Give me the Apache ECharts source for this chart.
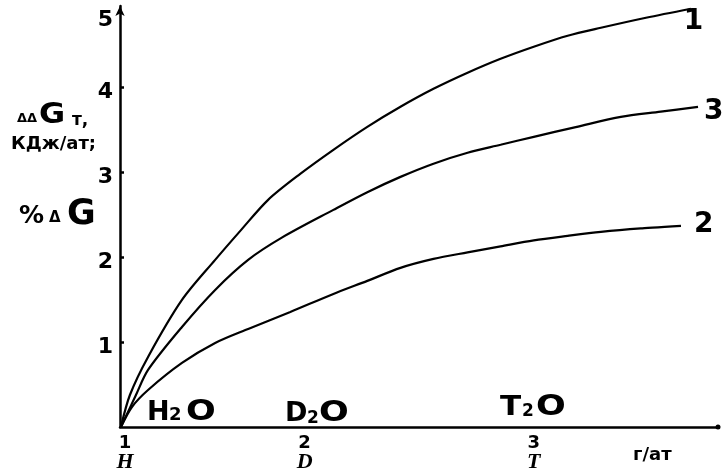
<!DOCTYPE html>
<html>
<head>
<meta charset="utf-8">
<script src="https://cdn.jsdelivr.net/npm/echarts@6.0.0/dist/echarts.min.js"></script>
<style>
  html, body { margin: 0; padding: 0; background: #fff; }
  #chart { width: 725px; height: 473px; }
</style>
</head>
<body>
<div id="chart"></div>
<script>
  // x is in drawing units of the original axis (1 = H, 2 = D, 3 = T are not evenly spaced)
  var xTickPos = [1, 1.98, 3.23];
  var xTickNum = ['1', '2', '3'];
  var xTickSym = ['H', 'D', 'T'];
  var yTickPos = [1, 2, 3, 4];
  var yLabelPos = [1, 2, 3, 4, 4.84];

  var curve1 = [[0.978, 0], [1.027, 0.376], [1.126, 0.824], [1.311, 1.494], [1.492, 1.965],
    [1.634, 2.318], [1.781, 2.671], [1.956, 2.976], [2.137, 3.259], [2.322, 3.529],
    [2.503, 3.765], [2.683, 3.976], [2.869, 4.165], [3.049, 4.329], [3.230, 4.471],
    [3.415, 4.600], [3.596, 4.694], [3.842, 4.812], [4.087, 4.918]];
  var curve2 = [[0.978, 0], [1.038, 0.235], [1.126, 0.435], [1.311, 0.753], [1.492, 0.988],
    [1.672, 1.153], [1.902, 1.353], [2.137, 1.565], [2.322, 1.718], [2.503, 1.871],
    [2.683, 1.976], [2.869, 2.053], [3.049, 2.124], [3.230, 2.194], [3.415, 2.247],
    [3.596, 2.294], [3.814, 2.335], [4.033, 2.365]];
  var curve3 = [[0.978, 0], [1.060, 0.376], [1.126, 0.671], [1.311, 1.176], [1.492, 1.612],
    [1.672, 1.965], [1.858, 2.229], [2.137, 2.553], [2.322, 2.761], [2.503, 2.941],
    [2.683, 3.096], [2.869, 3.224], [3.049, 3.318], [3.230, 3.412], [3.459, 3.526],
    [3.705, 3.647], [3.923, 3.708], [4.126, 3.765]];

  var font = 'DejaVu Sans';

  function curveSeries(name, data, offset) {
    return {
      name: name,
      type: 'line',
      data: data,
      smooth: 0.3,
      showSymbol: false,
      lineStyle: { color: '#000', width: 2.2 },
      endLabel: {
        show: true,
        formatter: name,
        distance: 0,
        offset: offset,
        color: '#000',
        fontFamily: font,
        fontWeight: 'bold',
        fontSize: 28
      },
      z: 3
    };
  }

  function txt(x, y, text, size, sx) {
    return {
      type: 'text',
      x: x,
      y: y,
      scaleX: sx || 1,
      z: 10,
      style: {
        text: text,
        x: 0,
        y: 0,
        fill: '#000',
        font: 'bold ' + size + 'px "' + font + '"',
        textAlign: 'left',
        textVerticalAlign: 'middle'
      }
    };
  }

  var chart = echarts.init(document.getElementById('chart'));
  chart.setOption({
    backgroundColor: '#fff',
    animation: false,
    grid: { left: 120, right: 7, top: 6, bottom: 46 },
    xAxis: {
      type: 'value',
      min: 0.973,
      max: 4.235,
      axisLine: {
        lineStyle: { color: '#000', width: 2.5 },
        symbol: ['none', 'circle'],
        symbolSize: [5, 5]
      },
      axisTick: { show: false },
      splitLine: { show: false },
      axisLabel: {
        customValues: xTickPos,
        margin: 7,
        formatter: function (v) {
          var best = 0;
          for (var i = 1; i < xTickPos.length; i++) {
            if (Math.abs(xTickPos[i] - v) < Math.abs(xTickPos[best] - v)) best = i;
          }
          return '{n|' + xTickNum[best] + '}\n{s|' + xTickSym[best] + '}';
        },
        rich: {
          n: { fontFamily: font, fontWeight: 'bold', fontSize: 18, lineHeight: 18, color: '#000' },
          s: { fontFamily: 'Liberation Serif', fontStyle: 'italic', fontWeight: 'bold', fontSize: 22, lineHeight: 20, color: '#000' }
        }
      }
    },
    yAxis: {
      type: 'value',
      min: 0,
      max: 4.95,
      axisLine: {
        lineStyle: { color: '#000', width: 2.5 },
        symbol: ['none', 'arrow'],
        symbolSize: [7, 10]
      },
      axisTick: {
        show: true,
        inside: true,
        length: 4,
        customValues: yTickPos,
        lineStyle: { color: '#000', width: 2.5 }
      },
      splitLine: { show: false },
      axisLabel: {
        customValues: yLabelPos,
        margin: 7,
        verticalAlign: 'top',
        lineHeight: 10,
        formatter: function (v) { return String(Math.round(v)); },
        color: '#000',
        fontFamily: font,
        fontWeight: 'bold',
        fontSize: 22
      }
    },
    series: [
      curveSeries('1', curve1, [-7, 13]),
      curveSeries('3', curve3, [6, 5]),
      curveSeries('2', curve2, [13, -1])
    ],
    graphic: [
      // y-axis title
      txt(17, 119, 'ΔΔ', 13),
      txt(39, 115, 'G', 29, 1.1),
      txt(72, 121, 'т,', 17),
      txt(11, 144, 'КДж/ат;', 18),
      txt(19, 216, '%', 25),
      txt(49, 218, 'Δ', 15),
      txt(67, 215, 'G', 35),
      // x-axis unit
      txt(633, 455, 'г/ат', 18),
      // substances
      txt(147, 413, 'H', 27),
      txt(169, 415, '2', 18),
      txt(186, 413, 'O', 28, 1.25),
      txt(285, 414, 'D', 27),
      txt(307, 419, '2', 17),
      txt(319, 414, 'O', 28, 1.25),
      txt(500, 408, 'T', 27, 1.15),
      txt(522, 412, '2', 17),
      txt(536, 408, 'O', 28, 1.25)
    ]
  });
</script>
</body>
</html>
